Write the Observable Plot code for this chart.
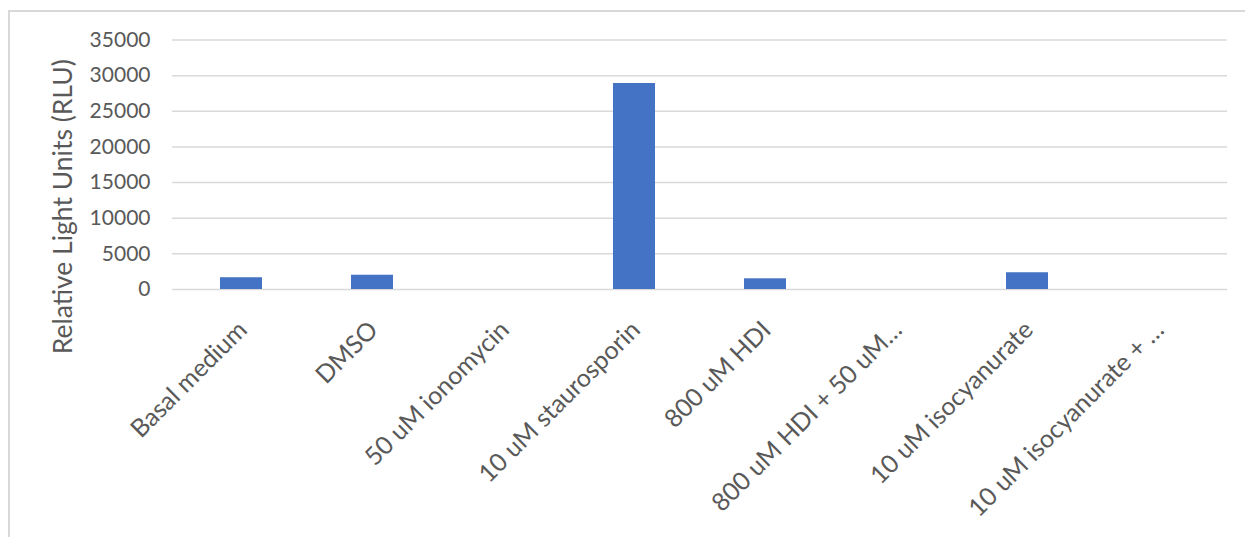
<!DOCTYPE html>
<html>
<head>
<meta charset="utf-8">
<script src="https://cdn.jsdelivr.net/npm/d3@7"></script>
<script src="https://cdn.jsdelivr.net/npm/@observablehq/plot@0.6"></script>
<style>
  html, body { margin: 0; padding: 0; background: #fff; }
  #wrap { position: relative; width: 1245px; height: 537px; overflow: hidden; }
  #border { position: absolute; left: 7.5px; top: 9.5px; width: 1260px; height: 560px;
            border: 2.5px solid #d9d9d9; box-sizing: border-box; pointer-events: none; }
  #chart { position: absolute; left: 0; top: 0; }
</style>
</head>
<body>
<div id="wrap">
  <div id="chart"></div>
  <div id="border"></div>
</div>
<script>
const categories = [
  "Basal medium",
  "DMSO",
  "50 uM ionomycin",
  "10 uM staurosporin",
  "800 uM HDI",
  "800 uM HDI + 50 uM…",
  "10 uM isocyanurate",
  "10 uM isocyanurate + …"
];
const values = [1650, 2000, 0, 28900, 1500, 0, 2350, 0];
const yTicks = [0, 5000, 10000, 15000, 20000, 25000, 30000, 35000];
const yTitle = "Relative Light Units (RLU)";

const data = categories.map((c, i) => ({category: c, value: values[i]}));
const textColor = "#595959";

const chart = Plot.plot({
  width: 1245,
  height: 537,
  marginLeft: 172,
  marginRight: 18,
  marginTop: 39.5,
  marginBottom: 248,
  style: {fontFamily: "Lato, 'Open Sans', sans-serif", background: "transparent"},
  x: {domain: categories, paddingInner: 0.68, paddingOuter: 0.34, axis: null},
  y: {domain: [0, 35000], axis: null},
  marks: [
    Plot.gridY(yTicks, {stroke: "#d9d9d9", strokeOpacity: 1, strokeWidth: 1.5}),
    Plot.barY(data, {x: "category", y: "value", fill: "#4472C4"}),
    Plot.axisY(yTicks, {
      tickSize: 0, tickPadding: 22, fontSize: 21, color: textColor,
      tickFormat: d => String(d), label: null
    }),
    Plot.text(categories, {
      x: d => d, frameAnchor: "bottom", rotate: -45, textAnchor: "end",
      dx: 7, dy: 42, fontSize: 25, fill: textColor
    }),
    Plot.text([yTitle], {
      frameAnchor: "left", rotate: -90, textAnchor: "middle", dx: -109, dy: 42,
      fontSize: 26.5, fill: textColor
    })
  ]
});
document.getElementById("chart").appendChild(chart);
</script>
</body>
</html>
